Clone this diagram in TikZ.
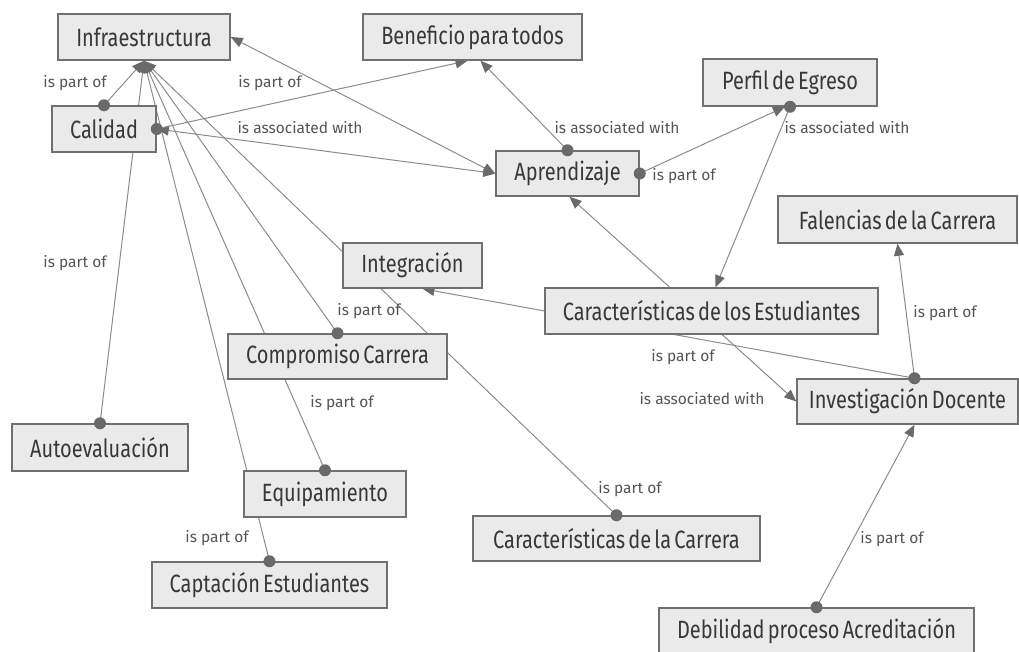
\documentclass[tikz,border=0pt]{standalone}
\usepackage{fontspec}
\setmainfont{Fira Sans}
\newfontfamily\boxfont{Fira Sans}[FakeStretch=0.80, WordSpace=0.6]
\usetikzlibrary{arrows.meta,backgrounds}
\definecolor{bfill}{HTML}{EAEAEA}
\definecolor{bdraw}{HTML}{707070}
\definecolor{btext}{HTML}{383838}
\definecolor{ltext}{HTML}{555555}
\definecolor{ecol}{HTML}{8C8C8C}
\definecolor{hcol}{HTML}{6A6A6A}
\begin{document}
\begin{tikzpicture}[x=1pt,y=-1pt,
  box/.style={draw=bdraw, line width=1.5pt, fill=bfill, minimum height=46pt, inner sep=0pt, text=btext, font=\boxfont\fontsize{25}{25}\selectfont},
  lab/.style={text=ltext, font=\fontsize{15.5}{15.5}\selectfont, inner sep=0pt},
  edge/.style={draw=ecol, line width=1pt},
  Ar/.tip={Triangle[length=12pt,width=10pt,color=hcol]},
  dotc/.style={fill=hcol}]
\useasboundingbox (0,0) rectangle (1019,651);
% boxes
\node[box, minimum width=172pt] (infra) at (144,37) {Infraestructura};
\node[box, minimum width=104pt] (calidad) at (104,129) {Calidad};
\node[box, minimum width=219pt] (benef) at (472.5,37) {Beneficio para todos};
\node[box, minimum width=143pt, minimum height=45pt] (aprend) at (567.5,173.5) {Aprendizaje};
\node[box, minimum width=174pt, minimum height=47pt] (perfil) at (790,82.5) {Perfil de Egreso};
\node[box, minimum width=239pt, minimum height=47pt] (falencias) at (897.5,219.5) {Falencias de la Carrera};
\node[box, minimum width=139pt, minimum height=45pt] (integ) at (412.5,265.5) {Integración};
\node[box, minimum width=219pt, minimum height=45pt] (compromiso) at (337.5,356.5) {Compromiso Carrera};
\node[box, minimum width=333pt] (carest) at (711.5,311) {Características de los Estudiantes};
\node[box, minimum width=221pt, minimum height=45pt] (inv) at (907.5,401.5) {Investigación Docente};
\node[box, minimum width=176pt, minimum height=47pt] (autoeval) at (100,447.5) {Autoevaluación};
\node[box, minimum width=162pt] (equip) at (325,494) {Equipamiento};
\node[box, minimum width=235pt] (captacion) at (269.5,585) {Captación Estudiantes};
\node[box, minimum width=287pt, minimum height=45pt] (carcarrera) at (616.5,538.5) {Características de la Carrera};
\node[box, minimum width=315pt] (debilidad) at (816.5,631) {Debilidad proceso Acreditación};
% edges behind the boxes
\begin{pgfonlayer}{background}
\fill[white] (0,0) rectangle (1019,651);
\draw[edge,-Ar] (calidad.north) -- (infra.south);
\draw[edge,-Ar] (autoeval.north) -- (infra.south);
\draw[edge,-Ar] (captacion.north) -- (infra.south);
\draw[edge,-Ar] (equip.north) -- (infra.south);
\draw[edge,-Ar] (compromiso.north) -- (infra.south);
\draw[edge,-Ar] (carcarrera.north) -- (infra.south);
\draw[edge,Ar-Ar] (infra.east) -- (aprend.west);
\draw[edge,Ar-Ar] (calidad.east) -- (aprend.west);
\draw[edge,-Ar] (calidad.east) -- ([xshift=-5pt]benef.south);
\draw[edge,-Ar] (aprend.north) -- ([xshift=8pt]benef.south);
\draw[edge,-Ar] (aprend.east) -- ([xshift=-5pt]perfil.south);
\draw[edge,-Ar] (perfil.south) -- ([xshift=4pt]carest.north);
\draw[edge,Ar-Ar] ([xshift=2pt]aprend.south) -- (inv.west);
\draw[edge,-Ar] ([xshift=7pt]inv.north) -- ([xshift=10pt]integ.south);
\draw[edge,-Ar] ([xshift=7pt]inv.north) -- (falencias.south);
\draw[edge,-Ar] (debilidad.north) -- ([xshift=7pt]inv.south);
\end{pgfonlayer}
% source dots
\foreach \p in {calidad.north, autoeval.north, captacion.north, equip.north, compromiso.north, carcarrera.north, calidad.east, aprend.north, aprend.east, perfil.south, debilidad.north}
  \fill[dotc] (\p) circle (6pt);
\fill[dotc] ([xshift=7pt]inv.north) circle (6pt);
% labels
\node[lab] (l1) at (75,83) {is part of};
\node[lab] (l2) at (270,83) {is part of};
\node[lab] (l3) at (300,128) {is associated with};
\node[lab] (l4) at (617,128) {is associated with};
\node[lab] (l5) at (684,176) {is part of};
\node[lab] (l6) at (847,128) {is associated with};
\node[lab] (l7) at (75,263) {is part of};
\node[lab] (l8) at (369,311) {is part of};
\node[lab] (l9) at (342,403) {is part of};
\node[lab] (l10) at (217,538) {is part of};
\node[lab] (l11) at (630,489) {is part of};
\node[lab] (l12) at (892,539) {is part of};
\node[lab] (l13) at (945,313) {is part of};
\node[lab] (l14) at (683,357) {is part of};
\node[lab] (l15) at (702,399) {is associated with};
\end{tikzpicture}
\end{document}
